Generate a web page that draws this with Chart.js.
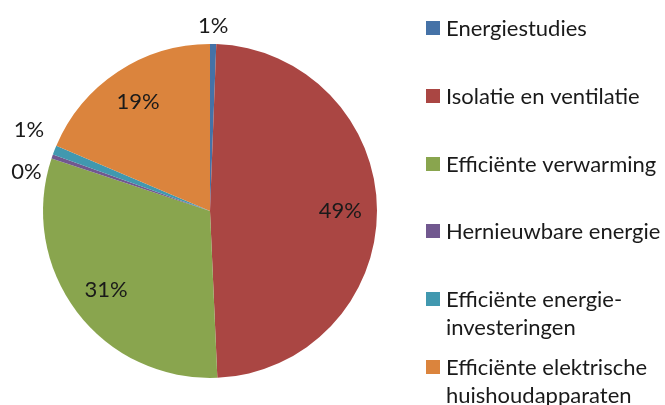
<!DOCTYPE html>
<html>
<head>
<meta charset="utf-8">
<script src="https://cdn.jsdelivr.net/npm/chart.js@4/dist/chart.umd.min.js"></script>
<style>
  html, body { margin: 0; padding: 0; background: #ffffff; }
  #wrap { width: 665px; height: 405px; position: relative; }
</style>
</head>
<body>
<div id="wrap"><canvas id="c" width="665" height="405"></canvas></div>
<script>
const categories = [
  "Energiestudies",
  "Isolatie en ventilatie",
  "Efficiënte verwarming",
  "Hernieuwbare energie",
  "Efficiënte energie-investeringen",
  "Efficiënte elektrische huishoudapparaten"
];
const legendLines = [
  ["Energiestudies"],
  ["Isolatie en ventilatie"],
  ["Efficiënte verwarming"],
  ["Hernieuwbare energie"],
  ["Efficiënte energie-", "investeringen"],
  ["Efficiënte elektrische", "huishoudapparaten"]
];
const shares = [0.6, 48.7, 30.8, 0.4, 0.9, 18.6];
const colors = ["#4572A7", "#AA4643", "#89A54E", "#71588F", "#4198AF", "#DB843D"];

const FONT = "Lato, 'Liberation Sans', sans-serif";

const labelPlugin = {
  id: 'sliceLabels',
  afterDatasetsDraw(chart) {
    const ctx = chart.ctx;
    const meta = chart.getDatasetMeta(0);
    const data = chart.data.datasets[0].data;
    const total = data.reduce((a, b) => a + b, 0);
    const outside = [];
    ctx.save();
    ctx.font = "22px " + FONT;
    ctx.fillStyle = "#1a1a1a";
    meta.data.forEach((arc, i) => {
      const p = arc.getProps(['x', 'y', 'startAngle', 'endAngle', 'outerRadius'], true);
      const mid = (p.startAngle + p.endAngle) / 2;
      const pct = Math.round(data[i] / total * 100) + "%";
      if (data[i] / total < 0.03) {
        const rr = p.outerRadius + 8;
        outside.push({ text: pct, x: p.x + Math.cos(mid) * rr, y: p.y + Math.sin(mid) * rr, cx: p.x, mid });
      } else {
        const rr = p.outerRadius * 0.78;
        ctx.textAlign = 'center';
        ctx.textBaseline = 'middle';
        ctx.fillText(pct, p.x + Math.cos(mid) * rr, p.y + Math.sin(mid) * rr);
      }
    });
    // spread overlapping outside labels on the left side
    const left = outside.filter(o => o.x < o.cx - 20).sort((a, b) => a.y - b.y);
    for (let k = 1; k < left.length; k++) {
      const a = left[k - 1], b = left[k];
      const minSep = 42;
      if (b.y - a.y < minSep) {
        const m = (a.y + b.y) / 2;
        a.y = m - minSep / 2; b.y = m + minSep / 2;
      }
    }
    outside.forEach(o => {
      if (o.x < o.cx - 20) {
        ctx.textAlign = 'right';
        ctx.textBaseline = 'middle';
        ctx.fillText(o.text, o.x - 3, o.y);
      } else if (o.x > o.cx + 20) {
        ctx.textAlign = 'left';
        ctx.textBaseline = 'middle';
        ctx.fillText(o.text, o.x + 3, o.y);
      } else {
        ctx.textAlign = 'center';
        ctx.textBaseline = 'alphabetic';
        ctx.fillText(o.text, o.x, o.y - 3);
      }
    });
    ctx.restore();
  }
};

const legendPlugin = {
  id: 'sideLegend',
  afterDraw(chart) {
    const ctx = chart.ctx;
    ctx.save();
    ctx.font = "22px " + FONT;
    ctx.textAlign = 'left';
    ctx.textBaseline = 'alphabetic';
    const lineH = 28, step = 67.8;
    legendLines.forEach((lines, i) => {
      const y = Math.round(36 + i * step);
      ctx.fillStyle = colors[i];
      ctx.fillRect(426, y - 15, 14, 14);
      ctx.fillStyle = "#1a1a1a";
      lines.forEach((t, j) => ctx.fillText(t, 446, y + j * lineH));
    });
    ctx.restore();
  }
};

new Chart(document.getElementById('c'), {
  type: 'pie',
  data: {
    labels: categories,
    datasets: [{
      data: shares,
      backgroundColor: colors,
      borderWidth: 0
    }]
  },
  options: {
    responsive: false,
    animation: false,
    layout: { padding: { left: 43, right: 288, top: 44, bottom: 27 } },
    plugins: {
      legend: { display: false },
      tooltip: { enabled: false },
      title: { display: false }
    }
  },
  plugins: [labelPlugin, legendPlugin]
});
</script>
</body>
</html>
